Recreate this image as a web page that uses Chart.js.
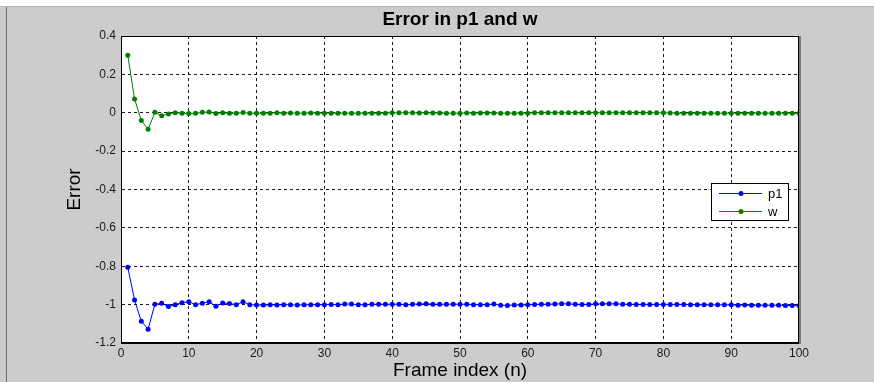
<!DOCTYPE html>
<html>
<head>
<meta charset="utf-8">
<script src="https://cdn.jsdelivr.net/npm/chart.js@4.4.1/dist/chart.umd.min.js"></script>
<style>
  html, body { margin: 0; padding: 0; background: #cccccc; }
  #wrap { width: 874px; height: 382px; position: relative; }
</style>
</head>
<body>
<div id="wrap"><canvas id="myChart" width="874" height="382"></canvas></div>
<script>
// DATOS

const frameIndex = [
  1, 2, 3, 4, 5, 6, 7, 8, 9, 10,
  11, 12, 13, 14, 15, 16, 17, 18, 19, 20,
  21, 22, 23, 24, 25, 26, 27, 28, 29, 30,
  31, 32, 33, 34, 35, 36, 37, 38, 39, 40,
  41, 42, 43, 44, 45, 46, 47, 48, 49, 50,
  51, 52, 53, 54, 55, 56, 57, 58, 59, 60,
  61, 62, 63, 64, 65, 66, 67, 68, 69, 70,
  71, 72, 73, 74, 75, 76, 77, 78, 79, 80,
  81, 82, 83, 84, 85, 86, 87, 88, 89, 90,
  91, 92, 93, 94, 95, 96, 97, 98, 99, 100
];

const errorP1 = [
  -0.805, -0.976, -1.087, -1.128, -0.998, -0.993, -1.010, -1.000, -0.990, -0.985,
  -1.000, -0.993, -0.985, -1.008, -0.992, -0.994, -1.000, -0.985, -1.000, -1.002,
  -1.002, -1.001, -1.002, -1.000, -1.001, -1.002, -1.001, -1.000, -1.001, -1.000,
  -0.999, -1.001, -0.997, -0.997, -1.001, -1.000, -0.998, -0.998, -0.998, -0.998,
  -0.998, -1.001, -0.998, -0.997, -0.995, -0.998, -0.998, -0.998, -0.998, -0.998,
  -0.998, -1.000, -1.001, -1.000, -0.997, -1.003, -1.004, -1.002, -1.002, -1.001,
  -0.999, -0.998, -0.998, -0.997, -0.996, -0.996, -0.998, -0.999, -0.999, -0.996,
  -0.996, -0.996, -0.996, -0.998, -0.998, -0.999, -0.999, -0.999, -0.999, -0.999,
  -0.999, -0.999, -0.999, -1.000, -1.001, -1.001, -1.001, -1.001, -1.001, -1.001,
  -1.003, -1.002, -1.003, -1.003, -1.003, -1.003, -1.003, -1.004, -1.004, -1.004
];

const errorW = [
  0.300, 0.072, -0.041, -0.086, 0.002, -0.015, -0.006, 0.000, -0.002, -0.004,
  -0.003, 0.002, 0.004, -0.004, 0.000, -0.003, -0.003, 0.001, -0.003, -0.002,
  -0.002, -0.002, 0.000, -0.002, -0.001, -0.002, -0.002, -0.001, -0.002, -0.002,
  -0.002, -0.002, -0.002, -0.002, -0.002, -0.002, -0.002, -0.003, -0.002, 0.000,
  0.000, 0.000, 0.000, -0.001, 0.000, -0.001, -0.001, -0.003, -0.002, -0.002,
  -0.001, -0.002, -0.001, -0.001, -0.001, -0.002, -0.002, -0.002, -0.002, -0.002,
  0.000, 0.000, 0.000, 0.000, 0.000, 0.000, 0.000, 0.000, 0.000, 0.000,
  0.000, 0.000, 0.000, 0.000, 0.000, 0.000, 0.000, 0.000, 0.000, 0.000,
  -0.001, -0.002, -0.002, -0.002, -0.002, -0.002, -0.002, -0.002, -0.002, -0.002,
  -0.002, -0.002, -0.002, -0.002, -0.002, -0.002, -0.002, -0.002, -0.003, -0.003
];

const xTicks = [0, 10, 20, 30, 40, 50, 60, 70, 80, 90, 100];
const yTicks = [0.4, 0.2, 0, -0.2, -0.4, -0.6, -0.8, -1, -1.2];

const chartTitle = 'Error in p1 and w';
const xTitle = 'Frame index (n)';
const yTitle = 'Error';

// PLUGIN: fondo gris, titulo, marco y leyenda estilo matlab

const matlabLook = {
  id: 'matlabLook',
  beforeDraw(chart) {
    const { ctx, chartArea: a } = chart;
    ctx.save();
    ctx.fillStyle = '#cccccc';
    ctx.fillRect(0, 0, chart.width, chart.height);
    ctx.fillStyle = '#ffffff';
    ctx.fillRect(0, 0, chart.width, 6);
    ctx.fillStyle = '#b5b5b5';
    ctx.fillRect(0, 6, chart.width, 1);
    ctx.fillStyle = '#6e6e6e';
    ctx.fillRect(6, 7, 1, chart.height - 7);
    ctx.fillStyle = '#ffffff';
    ctx.fillRect(a.left, a.top, a.right - a.left, a.bottom - a.top);
    ctx.fillStyle = '#000000';
    ctx.font = 'bold 19px "Liberation Sans", Arial, sans-serif';
    ctx.textAlign = 'center';
    ctx.textBaseline = 'middle';
    ctx.fillText(chartTitle, (a.left + a.right) / 2, 20);
    ctx.restore();
  },
  afterDraw(chart) {
    const { ctx, chartArea: a } = chart;
    ctx.save();
    ctx.strokeStyle = '#000000';
    ctx.lineWidth = 1;
    ctx.setLineDash([]);
    ctx.strokeRect(Math.round(a.left) + 0.5, Math.round(a.top) + 0.5,
      Math.round(a.right - a.left) - 1, Math.round(a.bottom - a.top) - 1);
    ctx.fillStyle = '#7a7a7a';
    ctx.fillRect(Math.round(a.right), Math.round(a.top), 2, Math.round(a.bottom - a.top) + 1);

    // leyenda
    const lx = 711, ly = 183, lw = 77, lh = 37;
    ctx.fillStyle = '#ffffff';
    ctx.fillRect(lx, ly, lw, lh);
    ctx.strokeStyle = '#000000';
    ctx.strokeRect(lx + 0.5, ly + 0.5, lw, lh);
    chart.data.datasets.forEach((ds, i) => {
      const y = ly + 10 + i * 18;
      ctx.strokeStyle = ds.borderColor;
      ctx.beginPath();
      ctx.moveTo(lx + 8, y + 0.5);
      ctx.lineTo(lx + 51, y + 0.5);
      ctx.stroke();
      ctx.fillStyle = ds.borderColor;
      ctx.beginPath();
      ctx.arc(lx + 30, y + 0.5, 2.5, 0, Math.PI * 2);
      ctx.fill();
      ctx.fillStyle = '#000000';
      ctx.font = '13px "Liberation Sans", Arial, sans-serif';
      ctx.textAlign = 'left';
      ctx.textBaseline = 'middle';
      ctx.fillText(ds.label, lx + 57, y + 1);
    });
    ctx.restore();
  }
};

const ctx = document.getElementById('myChart').getContext('2d');

const toPoints = (ys) => ys.map((v, i) => ({ x: frameIndex[i], y: v }));

const config = {
  type: 'line',
  data: {
    datasets: [{
      label: 'p1',
      data: toPoints(errorP1),
      borderColor: '#0000ff',
      backgroundColor: '#0000ff',
      borderWidth: 1,
      pointRadius: 2.5,
      pointBorderWidth: 0,
      pointStyle: 'circle',
      tension: 0
    }, {
      label: 'w',
      data: toPoints(errorW),
      borderColor: '#008000',
      backgroundColor: '#008000',
      borderWidth: 1,
      pointRadius: 2.5,
      pointBorderWidth: 0,
      pointStyle: 'circle',
      tension: 0
    }]
  },
  options: {
    responsive: false,
    animation: false,
    layout: { padding: { top: 36, right: 75, left: 0, bottom: 0 } },
    plugins: {
      legend: { display: false },
      title: { display: false },
      tooltip: { enabled: false }
    },
    scales: {
      x: {
        type: 'linear',
        min: 0,
        max: 100,
        afterBuildTicks: (scale) => { scale.ticks = xTicks.map(v => ({ value: v })); },
        afterFit: (scale) => { scale.height = 39; },
        grid: {
          color: '#1a1a1a',
          lineWidth: 1,
          drawTicks: false
        },
        // en v4 border.dash define el trazo de las lineas de grid
        border: { display: true, color: '#000000', dash: [3, 3] },
        ticks: {
          padding: 3,
          color: '#1a1a1a',
          font: { family: '"Liberation Sans", Arial, sans-serif', size: 12 },
          maxRotation: 0,
          callback: (v) => String(v)
        },
        title: {
          display: true,
          text: xTitle,
          color: '#000000',
          font: { family: '"Liberation Sans", Arial, sans-serif', size: 19 },
          padding: { top: 0, bottom: 0 }
        }
      },
      y: {
        min: -1.2,
        max: 0.4,
        afterBuildTicks: (scale) => { scale.ticks = yTicks.map(v => ({ value: v })); },
        afterFit: (scale) => { scale.width = 121; },
        grid: {
          color: '#1a1a1a',
          lineWidth: 1,
          drawTicks: false
        },
        border: { display: true, color: '#000000', dash: [3, 3] },
        ticks: {
          padding: 5,
          color: '#1a1a1a',
          font: { family: '"Liberation Sans", Arial, sans-serif', size: 12 },
          callback: (v) => String(Number(Number(v).toFixed(1)))
        },
        title: {
          display: true,
          text: yTitle,
          color: '#000000',
          font: { family: '"Liberation Sans", Arial, sans-serif', size: 19 },
          padding: { top: 63, bottom: 0 }
        }
      }
    }
  },
  plugins: [matlabLook]
};

let myChart = new Chart(ctx, config);
</script>
</body>
</html>
